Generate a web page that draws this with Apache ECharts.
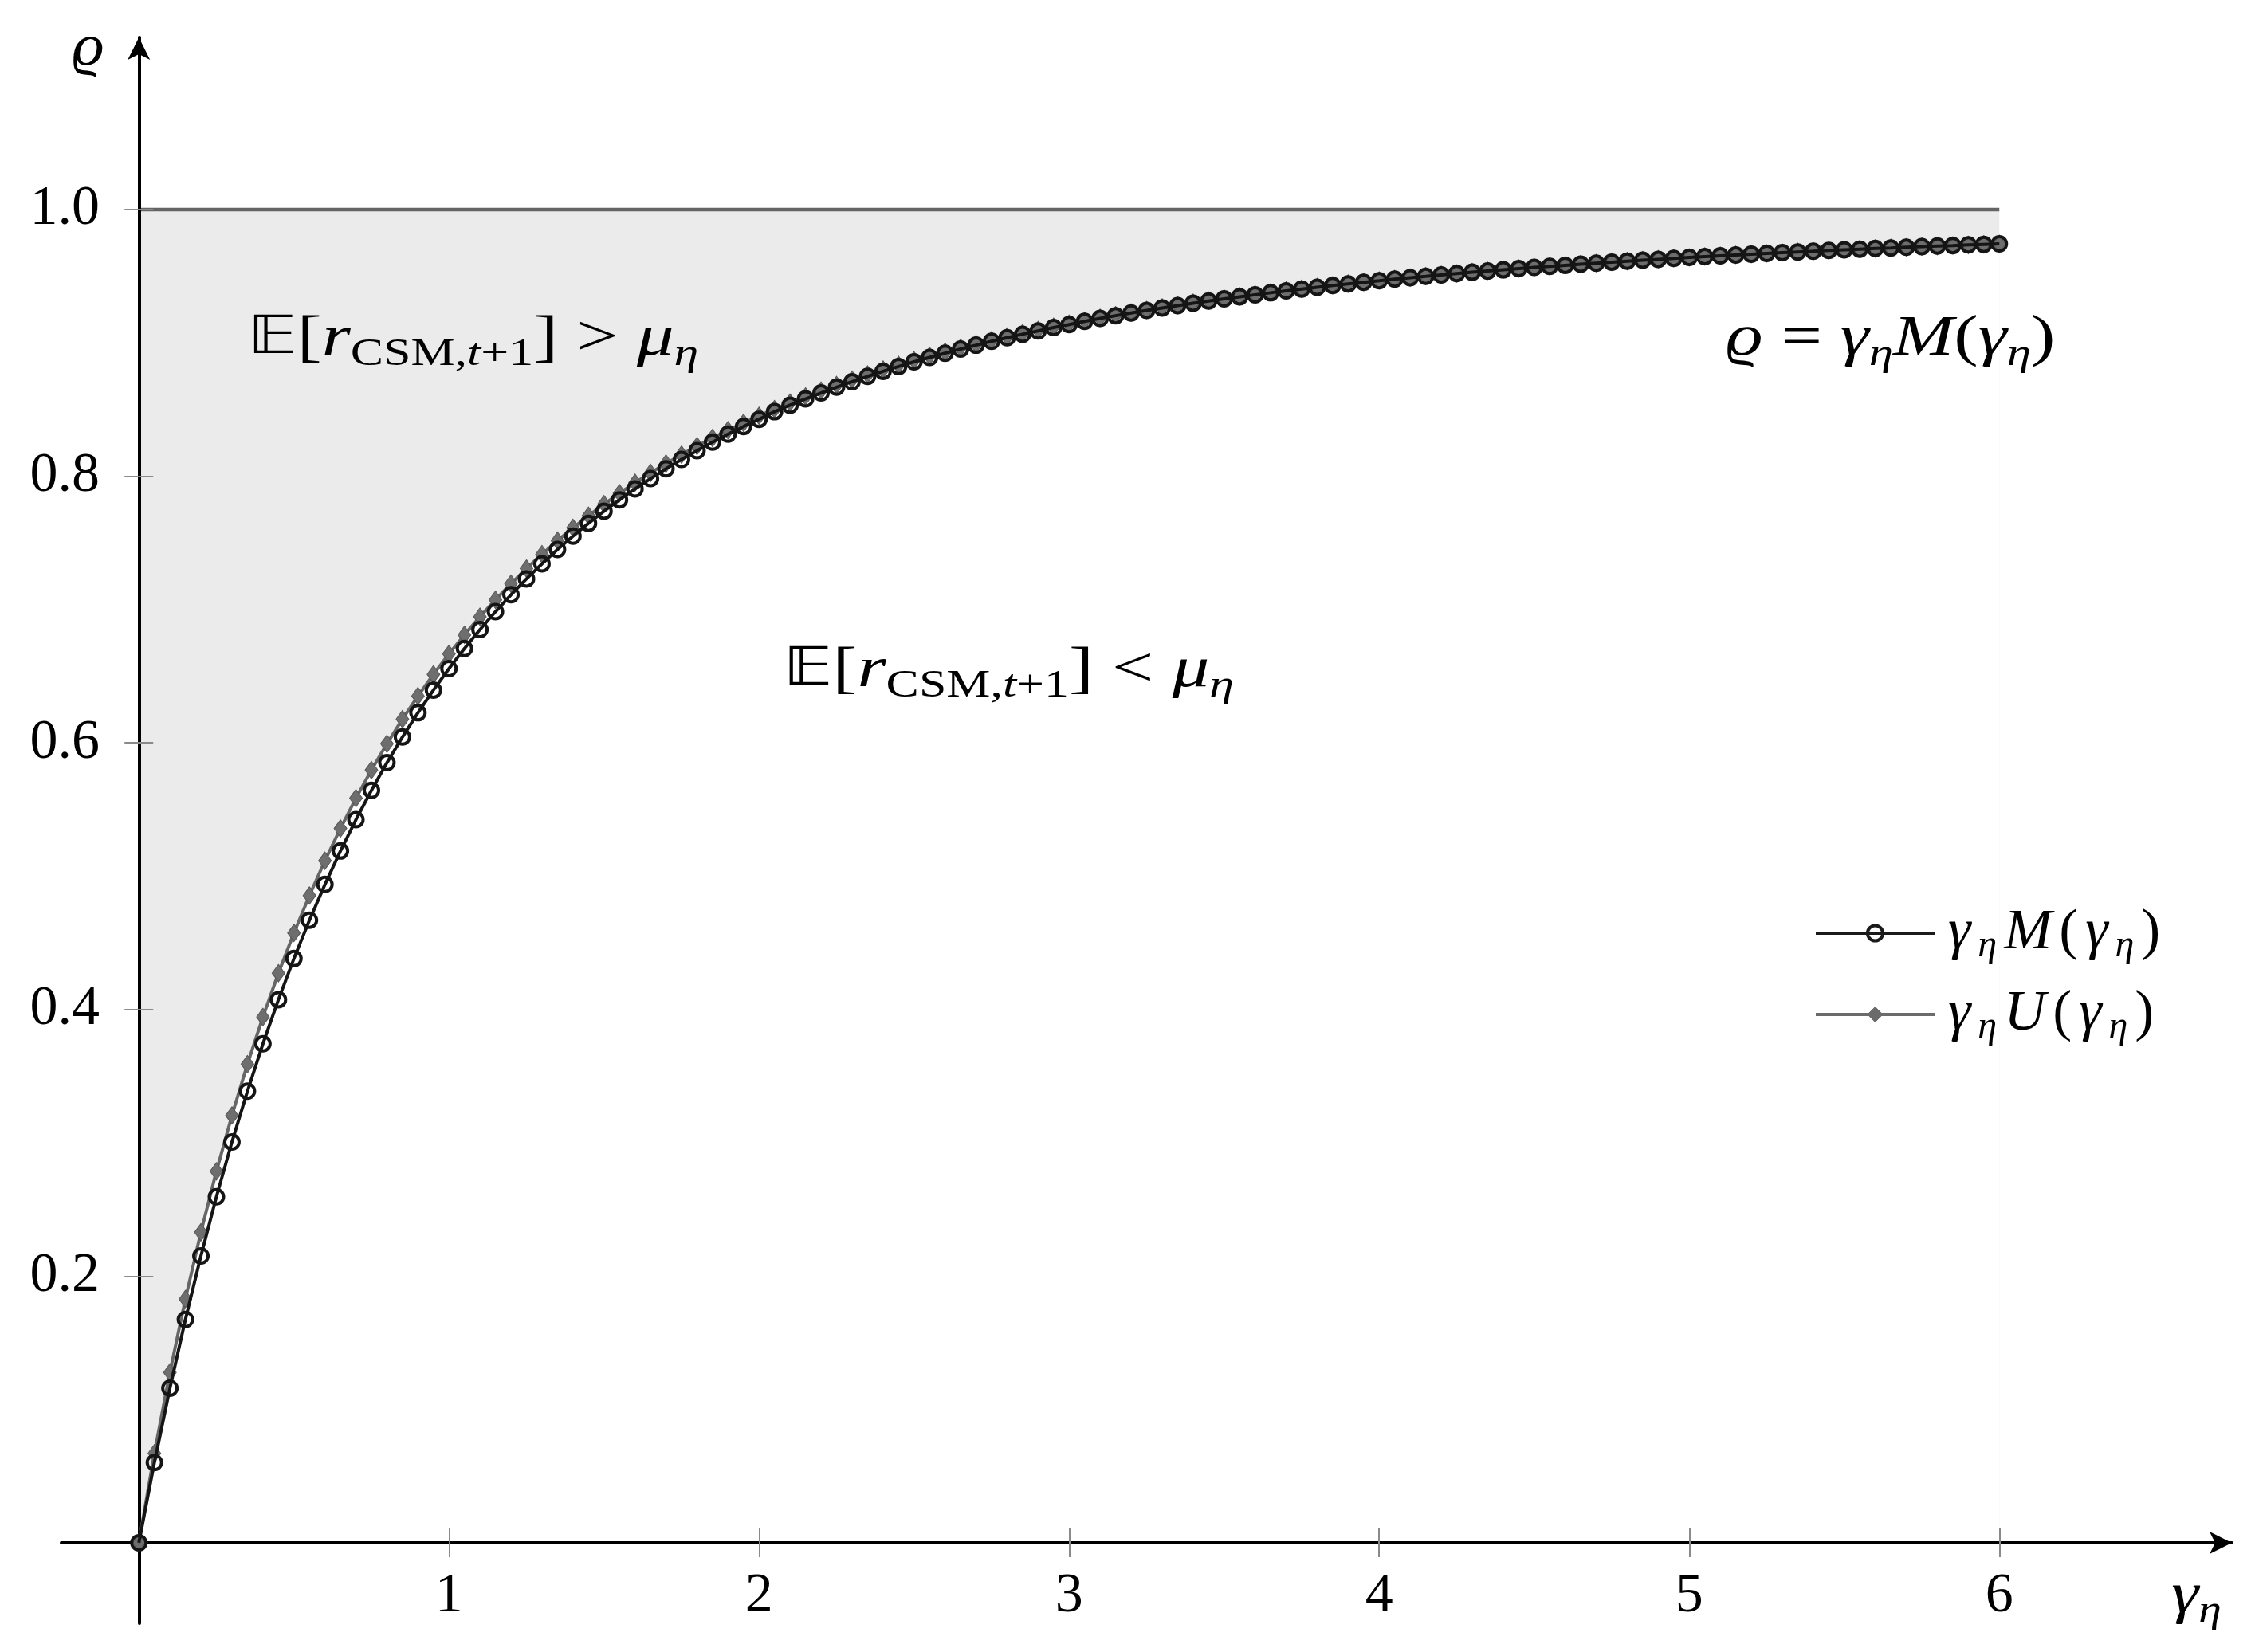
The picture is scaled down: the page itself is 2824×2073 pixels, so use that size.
<!DOCTYPE html>
<html>
<head>
<meta charset="utf-8">
<title>gamma M(gamma)</title>
<style>
  html, body { margin: 0; padding: 0; background: #fff; }
  #chart { width: 2824px; height: 2073px; }
</style>
<script src="https://cdn.jsdelivr.net/npm/echarts@6/dist/echarts.min.js"></script>
</head>
<body>
<div id="chart"></div>
<script>
// gamma_eta grid (markers every 0.05)
const gammaValues = [
  0, 0.05, 0.1, 0.15, 0.2, 0.25, 0.3, 0.35, 0.4, 0.45, 0.5,
  0.55, 0.6, 0.65, 0.7, 0.75, 0.8, 0.85, 0.9, 0.95, 1.0,
  1.05, 1.1, 1.15, 1.2, 1.25, 1.3, 1.35, 1.4, 1.45, 1.5,
  1.55, 1.6, 1.65, 1.7, 1.75, 1.8, 1.85, 1.9, 1.95, 2.0,
  2.05, 2.1, 2.15, 2.2, 2.25, 2.3, 2.35, 2.4, 2.45, 2.5,
  2.55, 2.6, 2.65, 2.7, 2.75, 2.8, 2.85, 2.9, 2.95, 3.0,
  3.05, 3.1, 3.15, 3.2, 3.25, 3.3, 3.35, 3.4, 3.45, 3.5,
  3.55, 3.6, 3.65, 3.7, 3.75, 3.8, 3.85, 3.9, 3.95, 4.0,
  4.05, 4.1, 4.15, 4.2, 4.25, 4.3, 4.35, 4.4, 4.45, 4.5,
  4.55, 4.6, 4.65, 4.7, 4.75, 4.8, 4.85, 4.9, 4.95, 5.0,
  5.05, 5.1, 5.15, 5.2, 5.25, 5.3, 5.35, 5.4, 5.45, 5.5,
  5.55, 5.6, 5.65, 5.7, 5.75, 5.8, 5.85, 5.9, 5.95, 6.0
];

// gamma_eta * M(gamma_eta)
const millsValues = [
  0, 0.0602, 0.1159, 0.1675, 0.2152, 0.2595, 0.3006, 0.3387, 0.3743, 0.4074, 0.4382,
  0.4670, 0.4938, 0.5189, 0.5424, 0.5644, 0.5851, 0.6044, 0.6226, 0.6396, 0.6557,
  0.6708, 0.6850, 0.6984, 0.7111, 0.7230, 0.7343, 0.7450, 0.7551, 0.7647, 0.7738,
  0.7823, 0.7905, 0.7982, 0.8056, 0.8126, 0.8192, 0.8256, 0.8316, 0.8373, 0.8427,
  0.8484, 0.8533, 0.8580, 0.8625, 0.8668, 0.8709, 0.8749, 0.8787, 0.8823, 0.8858,
  0.8891, 0.8923, 0.8954, 0.8983, 0.9012, 0.9039, 0.9065, 0.9090, 0.9115, 0.9138,
  0.9162, 0.9184, 0.9204, 0.9224, 0.9244, 0.9262, 0.9280, 0.9298, 0.9314, 0.9331,
  0.9346, 0.9361, 0.9376, 0.9390, 0.9404, 0.9417, 0.9430, 0.9443, 0.9455, 0.9466,
  0.9478, 0.9489, 0.9499, 0.9510, 0.9520, 0.9530, 0.9539, 0.9548, 0.9557, 0.9566,
  0.9574, 0.9582, 0.9590, 0.9598, 0.9606, 0.9613, 0.9620, 0.9627, 0.9634, 0.9641,
  0.9647, 0.9653, 0.9659, 0.9665, 0.9671, 0.9677, 0.9682, 0.9687, 0.9693, 0.9698,
  0.9703, 0.9708, 0.9712, 0.9717, 0.9722, 0.9726, 0.9730, 0.9735, 0.9739, 0.9743
];

// gamma_eta * U(gamma_eta)
const upperValues = [
  0, 0.0671, 0.1278, 0.1828, 0.2329, 0.2786, 0.3205, 0.3590, 0.3944, 0.4272, 0.4574,
  0.4855, 0.5116, 0.5358, 0.5585, 0.5796, 0.5993, 0.6178, 0.6351, 0.6514, 0.6667,
  0.6810, 0.6946, 0.7073, 0.7194, 0.7307, 0.7415, 0.7517, 0.7613, 0.7704, 0.7791,
  0.7873, 0.7951, 0.8025, 0.8095, 0.8162, 0.8226, 0.8287, 0.8345, 0.8400, 0.8453,
  0.8503, 0.8552, 0.8598, 0.8642, 0.8684, 0.8724, 0.8763, 0.8800, 0.8835, 0.8869,
  0.8902, 0.8933, 0.8963, 0.8992, 0.9020, 0.9047, 0.9073, 0.9097, 0.9121, 0.9144,
  0.9166, 0.9188, 0.9208, 0.9228, 0.9247, 0.9266, 0.9283, 0.9301, 0.9317, 0.9333,
  0.9349, 0.9364, 0.9379, 0.9393, 0.9406, 0.9419, 0.9432, 0.9445, 0.9457, 0.9468,
  0.9479, 0.9490, 0.9501, 0.9511, 0.9521, 0.9531, 0.9540, 0.9549, 0.9558, 0.9567,
  0.9575, 0.9583, 0.9591, 0.9599, 0.9607, 0.9614, 0.9621, 0.9628, 0.9635, 0.9641,
  0.9648, 0.9654, 0.9660, 0.9666, 0.9671, 0.9677, 0.9683, 0.9688, 0.9693, 0.9698,
  0.9703, 0.9708, 0.9713, 0.9717, 0.9722, 0.9726, 0.9731, 0.9735, 0.9739, 0.9743
];

const ceilingLevel = 1;
const xTicks = [1, 2, 3, 4, 5, 6];
const yTicks = [0.2, 0.4, 0.6, 0.8, 1.0];

const legendLabels = {
  M: '{g0|γ}{si|η}{i|M}{n|(}{i|γ}{si|η}{n|)}',
  U: '{g0|γ}{si|η}{i|U}{n|(}{i|γ}{si|η}{n|)}'
};

const annotations = [
  { at: [0.350, 0.9026], sx: 1.29, text: '{bb|𝔼}{n|[}{i|r}{s|CSM,}{si|t}{s|+1}{n|] > }{i|μ}{si|η}' },
  { at: [2.077, 0.6539], sx: 1.29, text: '{bb|𝔼}{n|[}{i|r}{s|CSM,}{si|t}{s|+1}{n|] < }{i|μ}{si|η}' },
  { at: [5.118, 0.9026], sx: 1.27, text: '{i|ϱ}{n| = }{i|γ}{si|η}{i|M}{n|(}{i|γ}{si|η}{n|)}' },
  { at: [-0.215, 1.120], sx: 1.1, text: '{i|ϱ}' },
  { at: [6.555, -0.0405], sx: 1.2, text: '{i|γ}{si|η}' }
];

const SERIF = "'Liberation Serif', 'DejaVu Serif', serif";

const mathRich = (size, sub, lh, gap) => ({
  n: { fontFamily: SERIF, fontSize: size, lineHeight: lh, color: '#000', padding: [0, gap, 0, 0] },
  i: { fontFamily: SERIF, fontStyle: 'italic', fontSize: size, lineHeight: lh, color: '#000', padding: [0, gap, 0, 0] },
  g0: { fontFamily: SERIF, fontStyle: 'italic', fontSize: size, lineHeight: lh, color: '#000', padding: [0, gap, 0, 12] },
  s: { fontFamily: SERIF, fontSize: sub, lineHeight: sub, verticalAlign: 'bottom', color: '#000', padding: [0, gap, 0, 0] },
  si: { fontFamily: SERIF, fontStyle: 'italic', fontSize: sub, lineHeight: sub, verticalAlign: 'bottom', color: '#000', padding: [0, gap, 0, 0] },
  bb: { fontFamily: "'DejaVu Sans', 'DejaVu Serif', sans-serif", fontSize: size * 0.92, lineHeight: lh, color: '#000' }
});

const zip = (ys) => gammaValues.map((g, i) => [g, ys[i]]);

const chart = echarts.init(document.getElementById('chart'));

const tickStyle = { color: '#8a8a8a', width: 2 };
const X_MIN = -0.25, X_MAX = 6.75, Y_MIN = -0.0604, Y_MAX = 1.1291;

const option = {
  animation: false,
  backgroundColor: '#fff',
  grid: { left: 77, right: 24, top: 47, bottom: 36, containLabel: false, outerBoundsMode: 'none' },
  xAxis: [
    {
      type: 'value', min: X_MIN, max: X_MAX, position: 'bottom', z: 5,
      axisLine: { onZero: true, symbol: ['none', 'arrow'], symbolSize: [21, 28], lineStyle: { color: '#000', width: 4 } },
      axisTick: { customValues: xTicks, length: 18, lineStyle: tickStyle },
      axisLabel: { customValues: xTicks, margin: -68, fontFamily: SERIF, fontSize: 70, color: '#000' },
      splitLine: { show: false }
    },
    {
      type: 'value', min: X_MIN, max: X_MAX, position: 'top', z: 5,
      axisLine: { show: false, onZero: true },
      axisTick: { customValues: xTicks, length: 18, lineStyle: tickStyle },
      axisLabel: { show: false },
      splitLine: { show: false }
    }
  ],
  yAxis: [
    {
      type: 'value', min: Y_MIN, max: Y_MAX, position: 'left', z: 5,
      axisLine: { onZero: true, symbol: ['none', 'arrow'], symbolSize: [21, 28], lineStyle: { color: '#000', width: 4 } },
      axisTick: { customValues: yTicks, length: 18, lineStyle: tickStyle },
      axisLabel: { customValues: yTicks, margin: -48, fontFamily: SERIF, fontSize: 70, color: '#000',
        formatter: (v) => v.toFixed(1) },
      splitLine: { show: false }
    },
    {
      type: 'value', min: Y_MIN, max: Y_MAX, position: 'right', z: 5,
      axisLine: { show: false, onZero: true },
      axisTick: { customValues: yTicks, length: 18, lineStyle: tickStyle },
      axisLabel: { show: false },
      splitLine: { show: false }
    }
  ],
  legend: {
    data: [
      { name: 'M', itemStyle: { color: 'rgba(0,0,0,0)', borderColor: '#1a1a1a', borderWidth: 4 },
        lineStyle: { color: '#1a1a1a', width: 4 } },
      { name: 'U', itemStyle: { color: '#6b6b6b', borderColor: '#6b6b6b', borderWidth: 1 },
        lineStyle: { color: '#6b6b6b', width: 4 } }
    ],
    orient: 'vertical',
    left: 2271,
    top: 1130,
    itemWidth: 149,
    itemHeight: 24,
    itemGap: 26,
    selectedMode: false,
    formatter: (name) => legendLabels[name],
    textStyle: { rich: mathRich(72, 48, 80, 9) }
  },
  series: [
    {
      // grey band: everything under the ceiling ...
      name: 'ceiling', type: 'line', data: gammaValues.map((g) => [g, ceilingLevel]),
      symbol: 'none', silent: true, z: 1,
      lineStyle: { color: '#646464', width: 4.5 },
      areaStyle: { color: '#ebebeb', opacity: 1 }
    },
    {
      // ... minus what lies under the upper curve
      name: 'cover', type: 'line', data: zip(upperValues),
      symbol: 'none', silent: true, z: 2,
      lineStyle: { width: 0, opacity: 0 },
      areaStyle: { color: '#ffffff', opacity: 1 }
    },
    {
      name: 'U', type: 'line', data: zip(upperValues), z: 6,
      symbol: 'diamond', symbolSize: [16, 22], showAllSymbol: true,
      lineStyle: { color: '#666666', width: 4 },
      itemStyle: { color: '#6e6e6e', borderColor: '#555555', borderWidth: 1 }
    },
    {
      name: 'M', type: 'line', data: zip(millsValues), z: 7,
      symbol: 'circle', symbolSize: 18, showAllSymbol: true,
      lineStyle: { color: '#151515', width: 4 },
      itemStyle: { color: 'rgba(0,0,0,0)', borderColor: '#151515', borderWidth: 4 }
    }
  ]
};

chart.setOption(option);

const textRich = mathRich(72, 48, 86, 0);
chart.setOption({
  graphic: annotations.map((a) => {
    const p = chart.convertToPixel({ xAxisIndex: 0, yAxisIndex: 0 }, a.at);
    return {
      type: 'text', x: p[0], y: p[1], scaleX: a.sx, z: 10,
      style: { text: a.text, rich: textRich, align: 'left', verticalAlign: 'middle' }
    };
  })
});

window.addEventListener('resize', () => chart.resize());
</script>
</body>
</html>
